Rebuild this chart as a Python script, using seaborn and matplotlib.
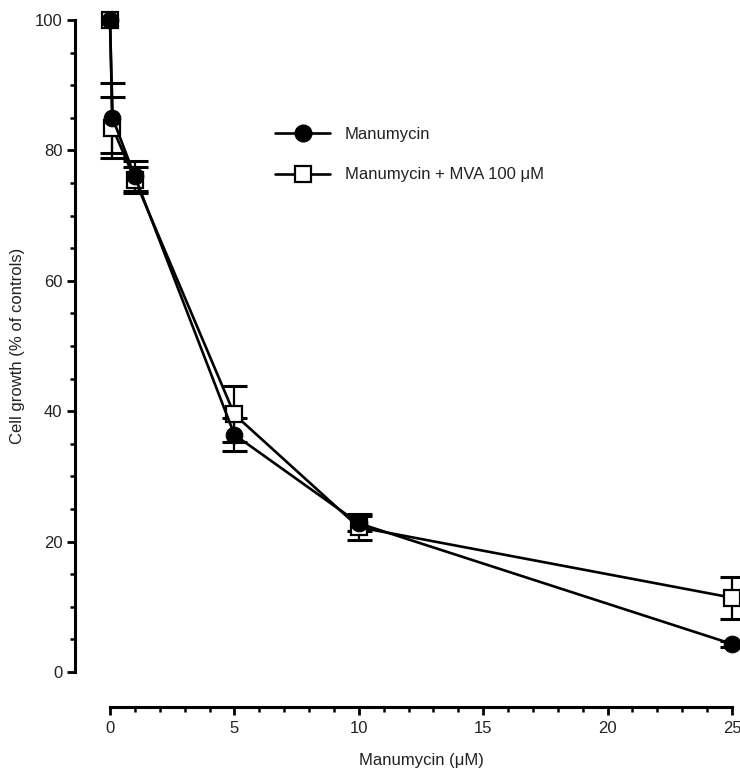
import matplotlib
matplotlib.use("Agg")
import matplotlib.pyplot as plt
from matplotlib.lines import Line2D
from matplotlib.ticker import MultipleLocator
import seaborn as sns
import pandas as pd

# Data
conc = [0, 0.1, 1, 5, 10, 25]
manu = [100, 85.0, 76.0, 36.4, 22.8, 4.3]
manu_err = [0, 5.4, 2.3, 2.5, 1.2, 0.4]
mva = [100, 83.5, 75.5, 39.5, 22.2, 11.4]
mva_err = [0, 4.7, 2.0, 4.3, 2.0, 3.2]
labels = ["Manumycin", "Manumycin + MVA 100 \u03bcM"]
xticks = [0, 5, 10, 15, 20, 25]
yticks = [0, 20, 40, 60, 80, 100]

sns.set_style("ticks")
plt.rcParams['font.family'] = ['Liberation Sans', 'DejaVu Sans']

fig = plt.figure(figsize=(7.4, 7.7), dpi=100)
ax = fig.add_axes([110/740, 1-672/770, (732-110)/740, (672-20)/770])

df_m = pd.DataFrame({"conc": conc, "val": manu})
df_v = pd.DataFrame({"conc": conc, "val": mva})

lw = 1.9
# error bars (skip the 100% control point)
ax.errorbar(conc[1:], mva[1:], yerr=mva_err[1:], fmt='none', ecolor='k',
            elinewidth=1.6, capsize=9, capthick=2.2, clip_on=False, zorder=2)
ax.errorbar(conc[1:], manu[1:], yerr=manu_err[1:], fmt='none', ecolor='k',
            elinewidth=1.6, capsize=9, capthick=2.2, clip_on=False, zorder=2)

sns.lineplot(data=df_v, x="conc", y="val", ax=ax, color='k', lw=lw,
             marker='s', markersize=11, markerfacecolor='white',
             markeredgecolor='k', markeredgewidth=1.6, zorder=3,
             estimator=None, sort=False)
sns.lineplot(data=df_m, x="conc", y="val", ax=ax, color='k', lw=lw,
             marker='o', markersize=12, markerfacecolor='k',
             markeredgecolor='k', zorder=4,
             estimator=None, sort=False)
for ln in ax.lines:
    ln.set_clip_on(False)

ax.set_xlim(0, 25)
ax.set_ylim(0, 100)
ax.set_xticks(xticks)
ax.set_yticks(yticks)
ax.xaxis.set_minor_locator(MultipleLocator(1))
ax.yaxis.set_minor_locator(MultipleLocator(5))

for side in ['top', 'right']:
    ax.spines[side].set_visible(False)
ax.spines['left'].set_position(('outward', 25.2))
ax.spines['bottom'].set_position(('outward', 25.2))
for side in ['left', 'bottom']:
    ax.spines[side].set_linewidth(2.2)
    ax.spines[side].set_color('k')

ax.tick_params(axis='both', which='major', length=6, width=2.0, colors='k',
               labelsize=12, labelcolor='#222222')
ax.tick_params(axis='both', which='minor', length=3.5, width=1.8, colors='k')
ax.tick_params(axis='x', which='major', pad=4)
ax.tick_params(axis='y', which='major', pad=3)

ax.set_xlabel("Manumycin (\u03bcM)", fontsize=12, color='#222222', labelpad=12)
ax.set_ylabel("Cell growth (% of controls)", fontsize=12, color='#222222', labelpad=7)

handles = [
    Line2D([], [], color='k', lw=lw, marker='o', markersize=12,
           markerfacecolor='k', markeredgecolor='k'),
    Line2D([], [], color='k', lw=lw, marker='s', markersize=11,
           markerfacecolor='white', markeredgecolor='k', markeredgewidth=1.6),
]
fig.legend(handles, labels, loc='upper left',
           bbox_to_anchor=(260/740, 1-112/770), frameon=False,
           fontsize=12, handlelength=3.3, handletextpad=0.9,
           labelspacing=1.52, labelcolor='#222222')

fig.savefig("out.png", dpi=100)
